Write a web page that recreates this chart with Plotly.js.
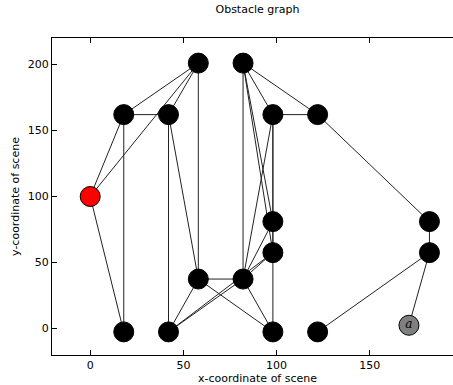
<!DOCTYPE html>
<html>
<head>
<meta charset="utf-8">
<script src="https://cdn.plot.ly/plotly-3.0.1.min.js"></script>
<style>
html,body{margin:0;padding:0;overflow:hidden;background:#fff;}
#chart{width:480px;height:385px;}
</style>
</head>
<body>
<div id="chart"></div>
<script>
// Node names and coordinates (scene units)
var nodeNames = ["R","A","B","C","D","E","F","G","H","I","J","K","L","M","N","O","P","Q"];
var nodeX     = [0, 18, 42, 58, 82, 98, 122, 182, 182, 171, 98, 98, 58, 82, 18, 42, 98, 122];
var nodeY     = [100, 162, 162, 201, 201, 162, 162, 81, 57.5, 2.5, 81, 57.5, 37.5, 37.5, -2.5, -2.5, -2.5, -2.5];
var nodeColors = ["#ff0000","#000000","#000000","#000000","#000000","#000000","#000000","#000000","#000000","#808080",
                  "#000000","#000000","#000000","#000000","#000000","#000000","#000000","#000000"];
var nodeLabels = ["","","","","","","","","","a","","","","","","","",""];

// Edges as pairs of node names
var edgeFrom = ["R","R","R","A","A","A","B","B","B","C","D","D","D","D","D","E","E","E","E","F","G","H","H","J","K","L","L","L","M","M","M","M","O"];
var edgeTo   = ["A","C","N","B","C","N","C","O","L","L","M","E","F","J","K","F","M","J","K","G","H","Q","I","K","P","M","O","P","P","O","J","K","K"];

var ex = [], ey = [];
for (var i = 0; i < edgeFrom.length; i++) {
  var a = nodeNames.indexOf(edgeFrom[i]), b = nodeNames.indexOf(edgeTo[i]);
  ex.push(nodeX[a], nodeX[b], null);
  ey.push(nodeY[a], nodeY[b], null);
}

var edgeTrace = {
  x: ex, y: ey, mode: "lines", type: "scatter",
  line: {color: "#222222", width: 1},
  hoverinfo: "skip", showlegend: false
};

var nodeTrace = {
  x: nodeX, y: nodeY, mode: "markers+text", type: "scatter",
  text: nodeLabels.map(function(t){ return t ? "<i>" + t + "</i>" : ""; }),
  textposition: "middle center",
  textfont: {family: "DejaVu Serif", size: 12, color: "#000"},
  marker: {size: 20, color: nodeColors, line: {color: "#000000", width: 1}},
  showlegend: false, hoverinfo: "skip"
};

var axisFont = {family: "DejaVu Sans", size: 11, color: "#000"};

var layout = {
  width: 480, height: 385,
  margin: {l: 52, r: 17, t: 38, b: 30},
  paper_bgcolor: "#fff", plot_bgcolor: "#fff",
  showlegend: false,
  title: {text: "Obstacle graph", font: {family: "DejaVu Sans", size: 11, color: "#000"},
          x: 0.5, xref: "paper", y: 0.985, yref: "container", yanchor: "top"},
  xaxis: {
    range: [-20.5, 200], tickvals: [0, 50, 100, 150], ticktext: ["0","50","100","150"],
    showgrid: false, zeroline: false, showline: true, linecolor: "#000", linewidth: 1,
    mirror: "ticks", ticks: "inside", ticklen: 5, tickwidth: 1, tickcolor: "#000",
    tickfont: axisFont,
    title: {text: "x-coordinate of scene", font: axisFont, standoff: 3}
  },
  yaxis: {
    range: [-20, 220], tickvals: [0, 50, 100, 150, 200], ticktext: ["0","50","100","150","200"],
    showgrid: false, zeroline: false, showline: true, linecolor: "#000", linewidth: 1,
    mirror: "ticks", ticks: "inside", ticklen: 5, tickwidth: 1, tickcolor: "#000",
    tickfont: axisFont,
    title: {text: "y-coordinate of scene", font: axisFont, standoff: 5}
  }
};

Plotly.newPlot("chart", [edgeTrace, nodeTrace], layout, {displayModeBar: false, staticPlot: true});
</script>
</body>
</html>
